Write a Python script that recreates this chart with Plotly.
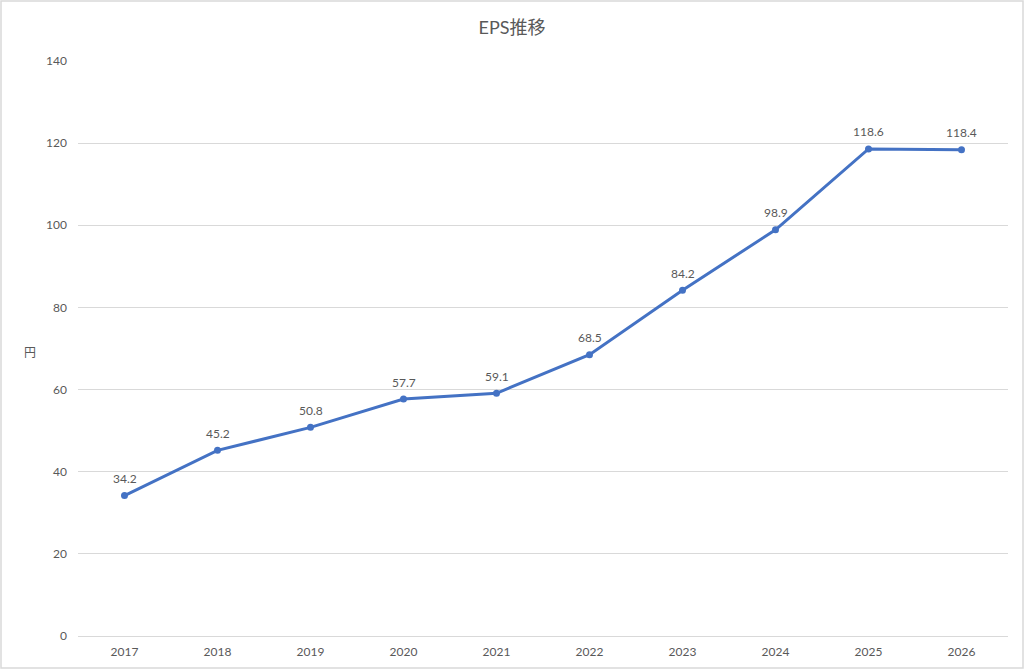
import plotly.graph_objects as go

years = ["2017", "2018", "2019", "2020", "2021", "2022", "2023", "2024", "2025", "2026"]
eps = [34.2, 45.2, 50.8, 57.7, 59.1, 68.5, 84.2, 98.9, 118.6, 118.4]
y_ticks = [0, 20, 40, 60, 80, 100, 120, 140]

FONT = "Lato, 'Noto Sans CJK JP', sans-serif"
TXT = "#595959"

xpos = list(range(len(years)))

fig = go.Figure()
fig.add_trace(go.Scatter(
    x=xpos, y=eps,
    mode="lines+markers",
    line=dict(color="#4472C4", width=3),
    marker=dict(color="#4472C4", size=7),
    cliponaxis=False,
    showlegend=False,
    hoverinfo="skip",
))

annotations = [
    dict(x=xi, y=v, xref="x", yref="y", text=f"{v:.1f}", showarrow=False,
         yshift=17, font=dict(family=FONT, size=12, color=TXT))
    for xi, v in zip(xpos, eps)
]
annotations.append(dict(text="円", xref="paper", yref="paper", x=(30 - 78) / 930,
                        y=(636 - 352) / 575, showarrow=False, xanchor="center", yanchor="middle",
                        font=dict(family=FONT, size=12, color=TXT)))

fig.update_layout(
    width=1024, height=669,
    margin=dict(l=78, r=16, t=61, b=33, autoexpand=False),
    paper_bgcolor="white", plot_bgcolor="white",
    font=dict(family=FONT, size=12, color=TXT),
    title=dict(text="EPS推移", x=0.5, xanchor="center", y=1 - 28 / 669, yanchor="middle",
               font=dict(family=FONT, size=18, color=TXT)),
    xaxis=dict(range=[-0.5, len(years) - 0.5], tickvals=xpos, ticktext=years,
               showgrid=False, showline=False, zeroline=False, automargin=False,
               ticks="", tickfont=dict(family=FONT, size=12, color=TXT), ticklabelstandoff=7),
    yaxis=dict(range=[0, 140], tickvals=y_ticks, showgrid=True, gridcolor="#D9D9D9", gridwidth=1,
               zeroline=True, zerolinecolor="#D9D9D9", zerolinewidth=1, automargin=False,
               showline=False, ticks="", tickfont=dict(family=FONT, size=12, color=TXT),
               ticklabelstandoff=10),
    annotations=annotations,
    shapes=[dict(type="rect", xref="paper", yref="paper", x0=-77/930, x1=1 + 15/930,
                 y0=-32/575, y1=1 + 60/575, line=dict(color="#D9D9D9", width=1.5))],
)

fig.write_html("out.html", config={"displayModeBar": False},
               post_script="document.body.style.margin='0';document.body.style.padding='0';")
